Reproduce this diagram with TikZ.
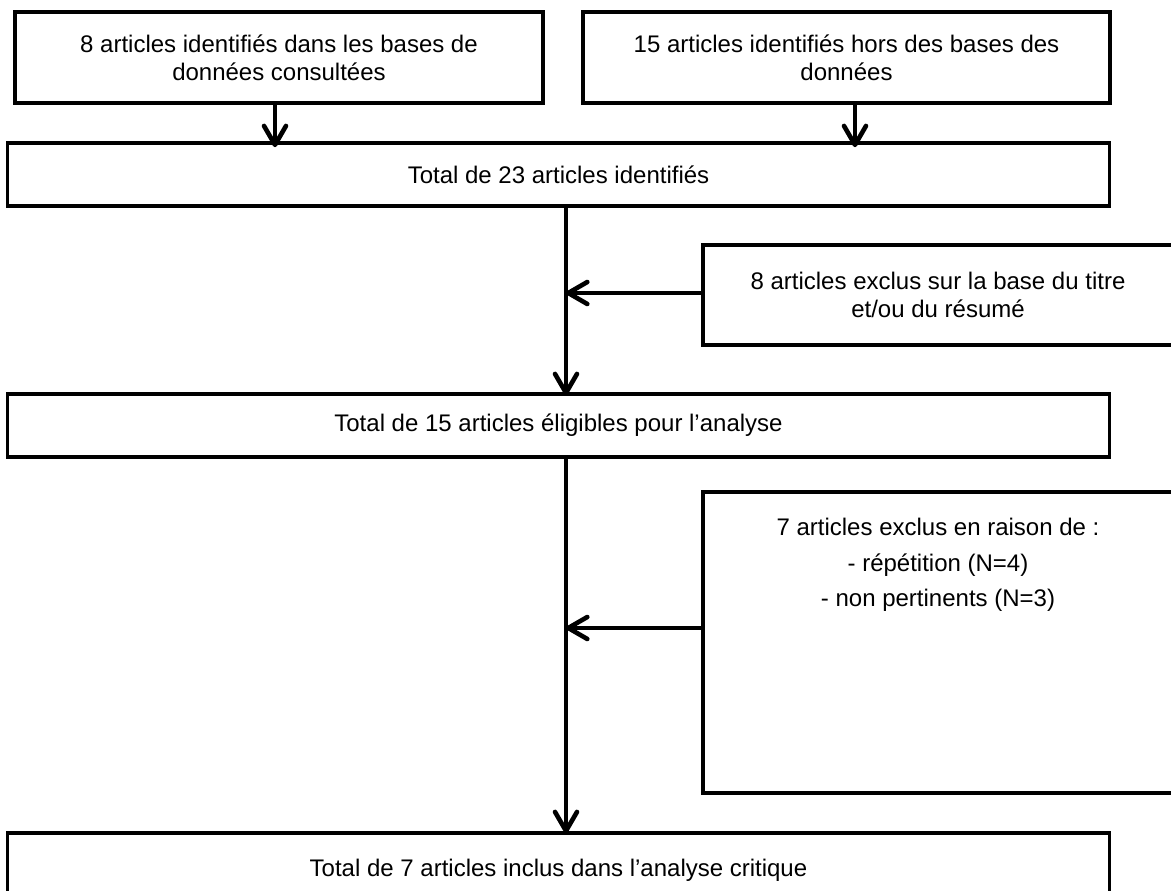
\documentclass[tikz,border=0pt]{standalone}
\usepackage{fontspec}
\setmainfont{Liberation Sans}
\usetikzlibrary{arrows.meta}
\begin{document}
\begin{tikzpicture}[x=1pt,y=-1pt,
  box/.style={draw, line width=3.6pt, inner sep=0pt, font=\fontsize{24}{28}\selectfont, align=center},
  lbl/.style={font=\fontsize{24}{28}\selectfont, align=center, inner sep=0pt},
  arr/.style={line width=4.6pt, -{Straight Barb[length=19pt,width=22pt,round]}}]
\clip (0,0) rectangle (1171,891);
\fill[white] (0,0) rectangle (1171,891);
\node[box, minimum width=528pt, minimum height=91pt] (b1) at (279,57.5)
  {8 articles identifiés dans les bases de\\données consultées};
\node[box, minimum width=527pt, minimum height=91pt] (b2) at (846.5,57.5)
  {15 articles identifiés hors des bases des\\données};
\node[box, minimum width=1102pt, minimum height=63pt] (b3) at (558.5,174.5)
  {Total de 23 articles identifiés};
\node[box, minimum width=470pt, minimum height=100pt] (b4) at (938,295)
  {8 articles exclus sur la base du titre\\et/ou du résumé};
\node[box, minimum width=1102pt, minimum height=63pt] (b5) at (558.5,425.5)
  {Total de 15 articles éligibles pour l’analyse};
\node[box, minimum width=470pt, minimum height=301pt] (b6) at (938,642.5) {};
\node[lbl, font=\fontsize{24}{35.5}\selectfont, anchor=north] (t6) at (938,518)
  {7 articles exclus en raison de :\\- répétition (N=4)\\- non pertinents (N=3)};
\node[box, minimum width=1102pt, minimum height=140pt] (b7) at (558.5,903) {};
\node[lbl] (t7) at (558.5,870) {Total de 7 articles inclus dans l’analyse critique};
\coordinate (xa) at (275,0);
\coordinate (xb) at (855,0);
\coordinate (xm) at (566,0);
\coordinate (ya) at (0,293);
\coordinate (yb) at (0,628);
\draw[arr] (xa |- b1.south) -- ([yshift=-6pt]xa |- b3.north);
\draw[arr] (xb |- b2.south) -- ([yshift=-6pt]xb |- b3.north);
\draw[arr] (xm |- b3.south) -- ([yshift=-3pt]xm |- b5.north);
\draw[arr] (xm |- b5.south) -- ([yshift=-2pt]xm |- b7.north);
\draw[arr] (b4.west |- ya) -- (xm |- ya);
\draw[arr] (b6.west |- yb) -- (xm |- yb);
\end{tikzpicture}
\end{document}
